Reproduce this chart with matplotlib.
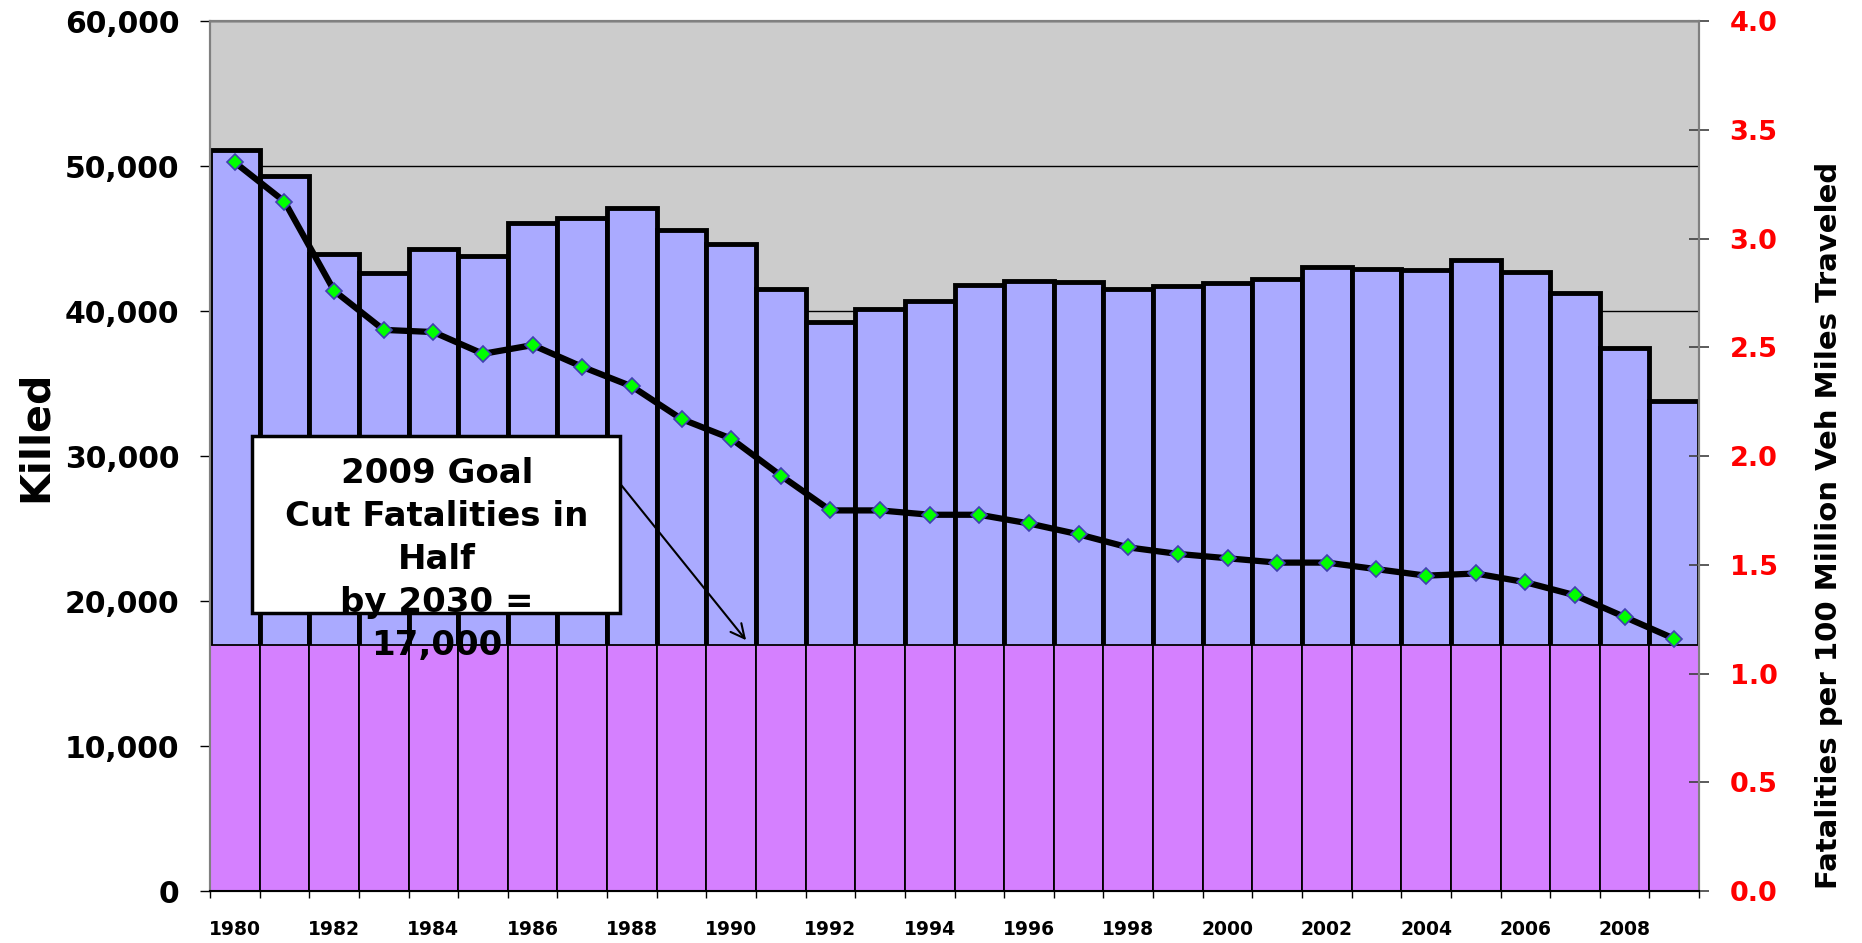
import matplotlib.pyplot as plt
import numpy as np
from matplotlib.patches import Rectangle
from matplotlib.ticker import FuncFormatter

plt.rcParams['font.family'] = 'DejaVu Sans'
plt.rcParams['font.weight'] = 'bold'

# Traffic fatalities 1980-2009
years = list(range(1980, 2010))
killed = [51091, 49301, 43945, 42589, 44257, 43825, 46087, 46390, 47087, 45582,
          44599, 41508, 39250, 40150, 40716, 41817, 42065, 42013, 41501, 41717,
          41945, 42196, 43005, 42884, 42836, 43510, 42708, 41259, 37423, 33808]
# fatalities per 100 million vehicle miles traveled
rate = [3.35, 3.17, 2.76, 2.58, 2.57, 2.47, 2.51, 2.41, 2.32, 2.17,
        2.08, 1.91, 1.75, 1.75, 1.73, 1.73, 1.69, 1.64, 1.58, 1.55,
        1.53, 1.51, 1.51, 1.48, 1.45, 1.46, 1.42, 1.36, 1.26, 1.16]
goal = 17000

x = np.arange(len(years))

fig = plt.figure(figsize=(18.62, 9.43), dpi=100)
ax = fig.add_axes([0.1128, 0.0551, 0.7997, 0.9226])
ax.set_facecolor('#CCCCCC')

# bars: upper part blue with heavy outline, goal band in violet on top
ax.bar(x, killed, width=1.0, color='#AAAAFF', edgecolor='black', linewidth=3.5, zorder=2)
ax.bar(x, [goal] * len(x), width=1.0, color='#D580FF', edgecolor='black', linewidth=1.3, zorder=3)

ax.set_xlim(-0.5, len(x) - 0.5)
ax.set_ylim(0, 60000)
ax.set_yticks(range(0, 60001, 10000))
ax.yaxis.set_major_formatter(FuncFormatter(lambda v, p: f'{v:,.0f}'))
ax.set_axisbelow(True)
ax.yaxis.grid(True, color='black', linewidth=1)
ax.tick_params(axis='y', length=7, width=1, pad=15, labelsize=21.5)

ax.set_xticks(x[::2])
ax.set_xticklabels([str(y) for y in years[::2]])
ax.set_xticks(np.arange(-0.5, len(x), 1), minor=True)
ax.tick_params(axis='x', which='major', length=0, pad=21, labelsize=13.5)
ax.tick_params(axis='x', which='minor', length=5, width=1, direction='out')

# rate line on right axis
ax2 = ax.twinx()
ax2.plot(x, rate, color='black', linewidth=4.5, marker='D', markersize=8.5,
         markerfacecolor='#00FF00', markeredgecolor='#4040B0', markeredgewidth=1.2, zorder=5)
ax2.set_ylim(0, 4)
ax2.set_yticks(np.arange(0, 4.01, 0.5))
ax2.yaxis.set_major_formatter(FuncFormatter(lambda v, p: f'{v:.1f}'))
ax2.tick_params(axis='y', direction='inout', length=14, width=1.2, color='#404040',
                labelcolor='red', labelsize=19.5, pad=15)

for a in (ax, ax2):
    for s in ('left', 'top', 'right'):
        a.spines[s].set_color('#808080')
        a.spines[s].set_linewidth(1.5)
    a.spines['bottom'].set_color('black')
    a.spines['bottom'].set_linewidth(1.5)

# annotation box
ax.add_patch(Rectangle((0.0282, 0.3195), 0.2472, 0.2035, transform=ax.transAxes,
                       facecolor='white', edgecolor='black', linewidth=2.5, zorder=10))
ax.text(0.1524, 0.381, '2009 Goal\nCut Fatalities in\nHalf\nby 2030 =\n17,000',
        transform=ax.transAxes, ha='center', va='center', multialignment='center',
        fontsize=24.5, linespacing=1.38, zorder=11)
ax.annotate('', xy=(10.3, 17300), xytext=(7.76, 28100),
            arrowprops=dict(arrowstyle='->', color='black', lw=1.5, mutation_scale=25,
                            shrinkA=0, shrinkB=0), zorder=10)

fig.text(36 / 1862, 0.5376, 'Killed', rotation=90, ha='center', va='center', fontsize=29.5)
fig.text(1829 / 1862, 0.443, 'Fatalities per 100 Million Veh Miles Traveled',
         rotation=90, ha='center', va='center', fontsize=21)

plt.savefig('out.png', dpi=100)
